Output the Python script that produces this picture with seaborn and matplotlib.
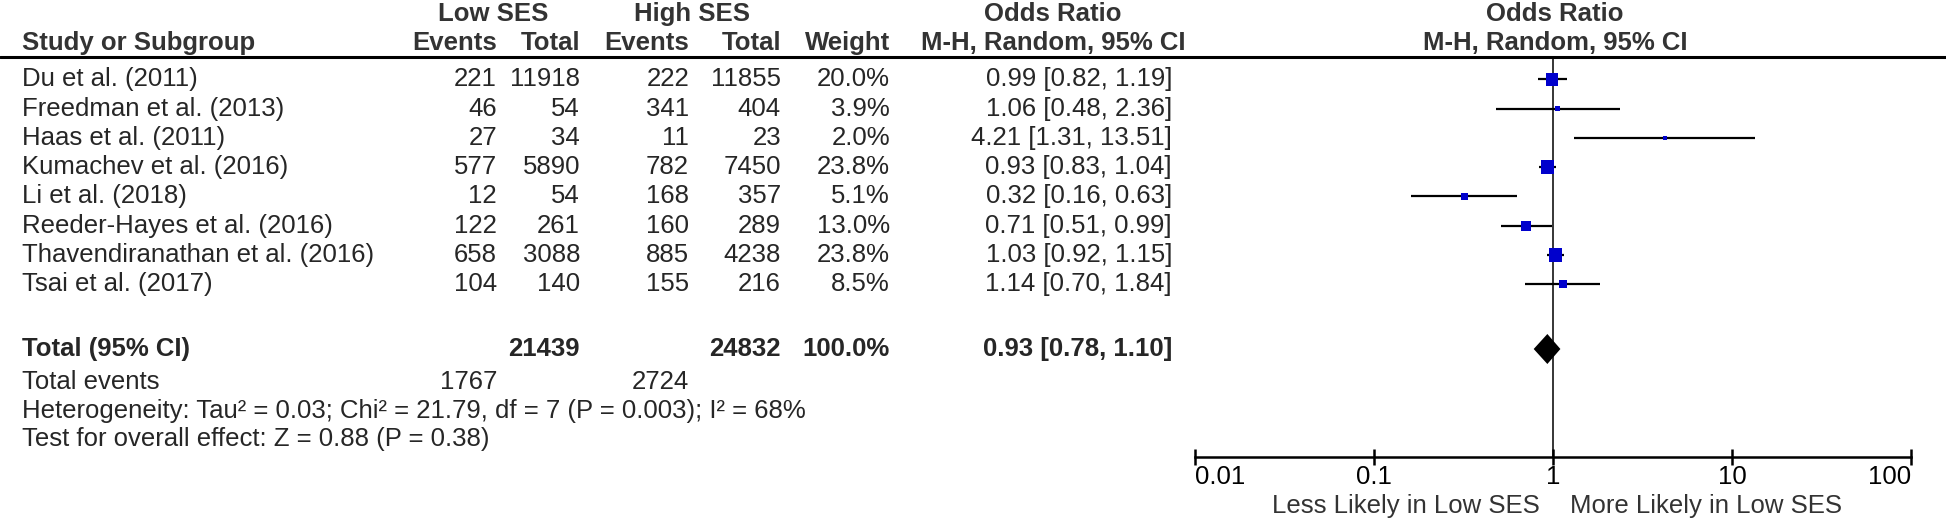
import numpy as np
import pandas as pd
import matplotlib
matplotlib.use('Agg')
import matplotlib.pyplot as plt
import seaborn as sns

###############################################################################

studies = ['Du et al. (2011)', 'Freedman et al. (2013)', 'Haas et al. (2011)',
           'Kumachev et al. (2016)', 'Li et al. (2018)',
           'Reeder-Hayes et al. (2016)', 'Thavendiranathan et al. (2016)',
           'Tsai et al. (2017)']
low_events = [221, 46, 27, 577, 12, 122, 658, 104]
low_total = [11918, 54, 34, 5890, 54, 261, 3088, 140]
high_events = [222, 341, 11, 782, 168, 160, 885, 155]
high_total = [11855, 404, 23, 7450, 357, 289, 4238, 216]
weights = [20.0, 3.9, 2.0, 23.8, 5.1, 13.0, 23.8, 8.5]
odds = [0.99, 1.06, 4.21, 0.93, 0.32, 0.71, 1.03, 1.14]
ci_low = [0.82, 0.48, 1.31, 0.83, 0.16, 0.51, 0.92, 0.70]
ci_high = [1.19, 2.36, 13.51, 1.04, 0.63, 0.99, 1.15, 1.84]

sum_low_total, sum_high_total = 21439, 24832
sum_low_events, sum_high_events = 1767, 2724
pooled = [0.93, 0.78, 1.10]
het_text = ('Heterogeneity: Tau\u00b2 = 0.03; Chi\u00b2 = 21.79, df = 7 '
            '(P = 0.003); I\u00b2 = 68%')
effect_text = 'Test for overall effect: Z = 0.88 (P = 0.38)'
x_ticks = [0.01, 0.1, 1, 10, 100]
x_tick_labels = ['0.01', '0.1', '1', '10', '100']

###############################################################################

W, H = 1946, 519
row0, row_step = 79.4, 29.25
y_rows = row0 + row_step * np.arange(len(studies))
y_total, y_events, y_het, y_test = 349, 382, 411, 439
y_axis = 457
y_head1, y_head2, y_line = 14, 43, 57

# column right edges (pixels)
c_lev, c_ltot, c_hev, c_htot, c_wt, c_or = 497, 580, 689, 781, 890, 1172
x_txt = 22

sns.set_theme(style='white')
plt.rcParams['font.family'] = ['Liberation Sans', 'DejaVu Sans']
fs = 18.5
hcol = '#333333'

fig = plt.figure(figsize=(W / 100, H / 100), dpi=100)
ax = fig.add_axes([0, 0, 1, 1])
ax.set_xlim(0, W)
ax.set_ylim(H, 0)
ax.axis('off')

# header
ax.text(493, y_head1, 'Low SES', ha='center', va='center', fontsize=fs,
        fontweight='bold', color=hcol)
ax.text(692, y_head1, 'High SES', ha='center', va='center', fontsize=fs,
        fontweight='bold', color=hcol)
ax.text(1053, y_head1, 'Odds Ratio', ha='center', va='center', fontsize=fs,
        fontweight='bold', color=hcol)
ax.text(1555, y_head1, 'Odds Ratio', ha='center', va='center', fontsize=fs,
        fontweight='bold', color=hcol)
head2 = [(x_txt, 'Study or Subgroup', 'left'), (c_lev, 'Events', 'right'),
         (c_ltot, 'Total', 'right'), (c_hev, 'Events', 'right'),
         (c_htot, 'Total', 'right'), (c_wt, 'Weight', 'right'),
         (1053, 'M-H, Random, 95% CI', 'center'),
         (1555, 'M-H, Random, 95% CI', 'center')]
for x, s, ha in head2:
    ax.text(x, y_head2, s, ha=ha, va='center', fontsize=fs,
            fontweight='bold', color=hcol)
ax.plot([0, W], [y_line, y_line], color='black', lw=2.2)

# study rows
for ii in range(len(studies)):
    y = y_rows[ii]
    ax.text(x_txt, y, studies[ii], ha='left', va='center', fontsize=fs)
    ax.text(c_lev, y, str(low_events[ii]), ha='right', va='center',
            fontsize=fs)
    ax.text(c_ltot, y, str(low_total[ii]), ha='right', va='center',
            fontsize=fs)
    ax.text(c_hev, y, str(high_events[ii]), ha='right', va='center',
            fontsize=fs)
    ax.text(c_htot, y, str(high_total[ii]), ha='right', va='center',
            fontsize=fs)
    ax.text(c_wt, y, '%.1f%%' % weights[ii], ha='right', va='center',
            fontsize=fs)
    ax.text(c_or, y, '%.2f [%.2f, %.2f]' % (odds[ii], ci_low[ii], ci_high[ii]),
            ha='right', va='center', fontsize=fs)

# totals
ax.text(x_txt, y_total, 'Total (95% CI)', ha='left', va='center',
        fontsize=fs, fontweight='bold')
ax.text(c_ltot, y_total, str(sum_low_total), ha='right', va='center',
        fontsize=fs, fontweight='bold')
ax.text(c_htot, y_total, str(sum_high_total), ha='right', va='center',
        fontsize=fs, fontweight='bold')
ax.text(c_wt, y_total, '100.0%', ha='right', va='center', fontsize=fs,
        fontweight='bold')
ax.text(c_or, y_total, '%.2f [%.2f, %.2f]' % tuple(pooled), ha='right',
        va='center', fontsize=fs, fontweight='bold')
ax.text(x_txt, y_events, 'Total events', ha='left', va='center', fontsize=fs)
ax.text(c_lev, y_events, str(sum_low_events), ha='right', va='center',
        fontsize=fs)
ax.text(c_hev, y_events, str(sum_high_events), ha='right', va='center',
        fontsize=fs)
ax.text(x_txt, y_het, het_text, ha='left', va='center', fontsize=fs)
ax.text(x_txt, y_test, effect_text, ha='left', va='center', fontsize=fs)

# forest panel
x0, x1 = 1195, 1911
axf = fig.add_axes([x0 / W, 0, (x1 - x0) / W, 1])
axf.set_xscale('log')
axf.set_xlim(0.01, 100)
axf.set_ylim(H, 0)
axf.patch.set_alpha(0)
for side in ['top', 'left', 'right']:
    axf.spines[side].set_visible(False)
axf.spines['bottom'].set_position(('data', y_axis))
axf.spines['bottom'].set_linewidth(1.8)
axf.spines['bottom'].set_color('black')
axf.set_yticks([])
axf.set_xticks(x_ticks)
axf.set_xticklabels(x_tick_labels)
axf.xaxis.set_minor_locator(matplotlib.ticker.NullLocator())
axf.tick_params(axis='x', direction='inout', length=12, width=1.8,
                labelsize=fs, pad=0, bottom=True, colors='black')
tl = axf.get_xticklabels()
tl[0].set_horizontalalignment('left')
tl[-1].set_horizontalalignment('right')

axf.vlines(1, y_line, y_axis, color='black', lw=1.1)
axf.hlines(y_rows, ci_low, ci_high, color='black', lw=1.6)

df = pd.DataFrame({'odds': odds, 'y': y_rows, 'weight': weights})
sns.scatterplot(data=df, x='odds', y='y', size='weight', sizes=(0, 95),
                size_norm=(0, 23.8), marker='s', color='#0000CC',
                linewidth=0, legend=False, ax=axf, zorder=3)
axf.set_xlabel('')
axf.set_ylabel('')

h = 15
axf.fill([pooled[1], pooled[0], pooled[2], pooled[0]],
         [y_total, y_total - h, y_total, y_total + h], color='black', lw=0)

ax.text(1540, 506, 'Less Likely in Low SES', ha='right', va='center',
        fontsize=fs, color=hcol)
ax.text(1570, 506, 'More Likely in Low SES', ha='left', va='center',
        fontsize=fs, color=hcol)

fig.savefig('out.png', dpi=100)
